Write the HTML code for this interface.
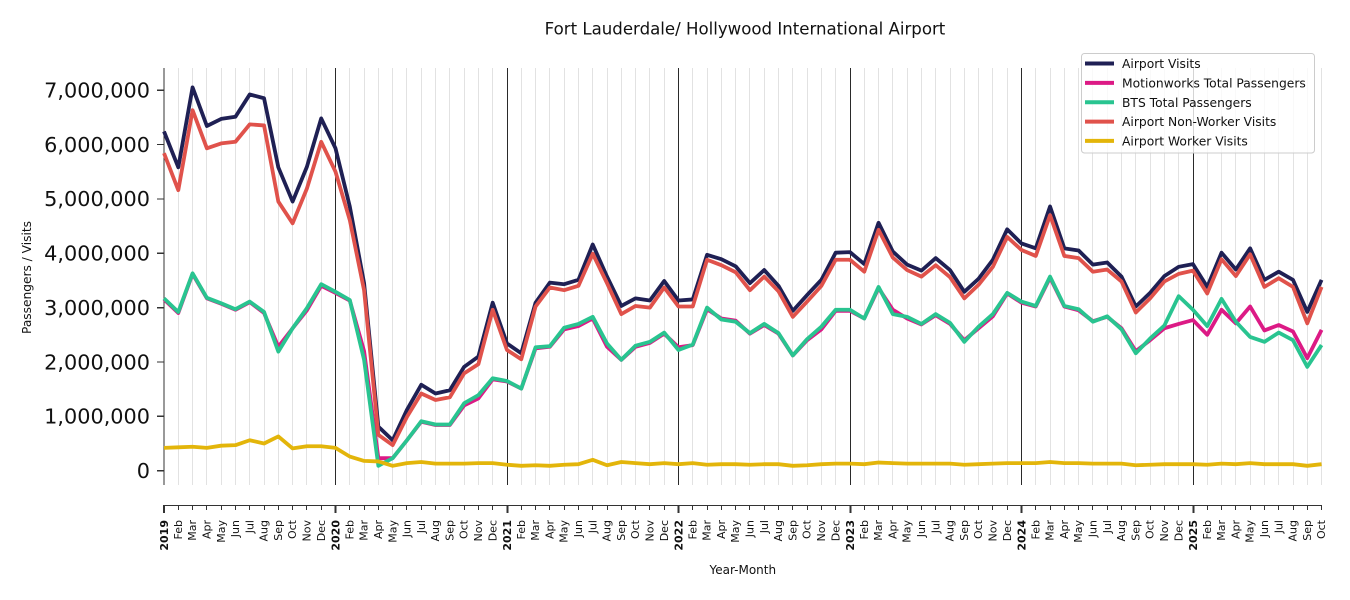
<!DOCTYPE html>
<html>
<head>
<meta charset="utf-8">
<style>
html,body{margin:0;padding:0;background:#fff;}
svg{display:block;font-family:"DejaVu Sans","Liberation Sans",sans-serif;}
</style>
</head>
<body>
<svg width="1350" height="600" viewBox="0 0 1350 600" xmlns="http://www.w3.org/2000/svg">
<rect width="1350" height="600" fill="#fff"/>
<!-- title -->
<text x="745" y="34.5" font-size="16.6" text-anchor="middle" fill="#111">Fort Lauderdale/ Hollywood International Airport</text>

<!-- minor grid -->
<path fill="none" stroke="#e2e2e2" stroke-width="1" shape-rendering="crispEdges" d="M178.5,68V485M192.5,68V485M206.5,68V485M221.5,68V485M235.5,68V485M249.5,68V485M264.5,68V485M278.5,68V485M292.5,68V485M306.5,68V485M321.5,68V485M349.5,68V485M364.5,68V485M378.5,68V485M392.5,68V485M406.5,68V485M421.5,68V485M435.5,68V485M449.5,68V485M464.5,68V485M478.5,68V485M492.5,68V485M521.5,68V485M535.5,68V485M549.5,68V485M564.5,68V485M578.5,68V485M592.5,68V485M607.5,68V485M621.5,68V485M635.5,68V485M649.5,68V485M664.5,68V485M692.5,68V485M707.5,68V485M721.5,68V485M735.5,68V485M749.5,68V485M764.5,68V485M778.5,68V485M792.5,68V485M807.5,68V485M821.5,68V485M835.5,68V485M864.5,68V485M878.5,68V485M892.5,68V485M907.5,68V485M921.5,68V485M935.5,68V485M950.5,68V485M964.5,68V485M978.5,68V485M992.5,68V485M1007.5,68V485M1035.5,68V485M1050.5,68V485M1064.5,68V485M1078.5,68V485M1092.5,68V485M1107.5,68V485M1121.5,68V485M1135.5,68V485M1150.5,68V485M1164.5,68V485M1178.5,68V485M1207.5,68V485M1221.5,68V485M1235.5,68V485M1250.5,68V485M1264.5,68V485M1278.5,68V485M1293.5,68V485M1307.5,68V485M1321.5,68V485"/>
<path fill="none" stroke="#2a2a2a" stroke-width="1" shape-rendering="crispEdges" d="M335.5,68V485M507.5,68V485M678.5,68V485M850.5,68V485M1021.5,68V485M1193.5,68V485"/>

<!-- spines and ticks -->
<g stroke="#333" stroke-width="1.3" fill="none" shape-rendering="crispEdges">
<path d="M164,68V485"/>
<path d="M157,470.7H164M157,416.3H164M157,362H164M157,307.6H164M157,253.2H164M157,198.9H164M157,144.5H164M157,90.1H164"/>
<path d="M164,505.5H1322"/>
</g>
<path fill="none" stroke="#333" stroke-width="1.2" shape-rendering="crispEdges" d="M178.5,505V510M192.5,505V510M206.5,505V510M221.5,505V510M235.5,505V510M249.5,505V510M264.5,505V510M278.5,505V510M292.5,505V510M306.5,505V510M321.5,505V510M349.5,505V510M364.5,505V510M378.5,505V510M392.5,505V510M406.5,505V510M421.5,505V510M435.5,505V510M449.5,505V510M464.5,505V510M478.5,505V510M492.5,505V510M521.5,505V510M535.5,505V510M549.5,505V510M564.5,505V510M578.5,505V510M592.5,505V510M607.5,505V510M621.5,505V510M635.5,505V510M649.5,505V510M664.5,505V510M692.5,505V510M707.5,505V510M721.5,505V510M735.5,505V510M749.5,505V510M764.5,505V510M778.5,505V510M792.5,505V510M807.5,505V510M821.5,505V510M835.5,505V510M864.5,505V510M878.5,505V510M892.5,505V510M907.5,505V510M921.5,505V510M935.5,505V510M950.5,505V510M964.5,505V510M978.5,505V510M992.5,505V510M1007.5,505V510M1035.5,505V510M1050.5,505V510M1064.5,505V510M1078.5,505V510M1092.5,505V510M1107.5,505V510M1121.5,505V510M1135.5,505V510M1150.5,505V510M1164.5,505V510M1178.5,505V510M1207.5,505V510M1221.5,505V510M1235.5,505V510M1250.5,505V510M1264.5,505V510M1278.5,505V510M1293.5,505V510M1307.5,505V510M1321.5,505V510"/>
<path fill="none" stroke="#333" stroke-width="1.6" shape-rendering="crispEdges" d="M164,505V513M335.5,505V513M507.5,505V513M678.5,505V513M850.5,505V513M1021.5,505V513M1193.5,505V513"/>

<!-- y tick labels -->
<g font-size="20.8" text-anchor="end" fill="#111">
<text x="150" y="478">0</text>
<text x="150" y="423.6">1,000,000</text>
<text x="150" y="369.3">2,000,000</text>
<text x="150" y="314.9">3,000,000</text>
<text x="150" y="260.5">4,000,000</text>
<text x="150" y="206.2">5,000,000</text>
<text x="150" y="151.8">6,000,000</text>
<text x="150" y="97.4">7,000,000</text>
</g>
<text transform="translate(26.5,277.5) rotate(-90)" dy="0.35em" font-size="12.2" text-anchor="middle" fill="#111">Passengers / Visits</text>

<!-- series -->
<g transform="translate(164,470.7) scale(14.291,-54.37)" fill="none" stroke-width="3.8" stroke-linejoin="round" stroke-linecap="butt">
<polyline vector-effect="non-scaling-stroke" stroke="#1f2054" points="0,6.24 1,5.58 2,7.05 3,6.34 4,6.47 5,6.51 6,6.92 7,6.85 8,5.58 9,4.95 10,5.59 11,6.48 12,5.93 13,4.86 14,3.45 15,0.81 16,0.56 17,1.12 18,1.58 19,1.42 20,1.48 21,1.91 22,2.10 23,3.09 24,2.34 25,2.16 26,3.09 27,3.46 28,3.43 29,3.51 30,4.16 31,3.57 32,3.03 33,3.17 34,3.13 35,3.49 36,3.13 37,3.15 38,3.97 39,3.89 40,3.76 41,3.45 42,3.69 43,3.40 44,2.94 45,3.23 46,3.51 47,4.01 48,4.02 49,3.80 50,4.56 51,4.03 52,3.79 53,3.68 54,3.91 55,3.69 56,3.29 57,3.53 58,3.88 59,4.44 60,4.18 61,4.09 62,4.86 63,4.09 64,4.05 65,3.79 66,3.83 67,3.57 68,3.02 69,3.27 70,3.58 71,3.75 72,3.80 73,3.38 74,4.01 75,3.70 76,4.09 77,3.51 78,3.66 79,3.51 80,2.92 81,3.51"/>
<polyline vector-effect="non-scaling-stroke" stroke="#dc1a85" points="0,3.15 1,2.90 2,3.62 3,3.17 4,3.07 5,2.96 6,3.10 7,2.90 8,2.28 9,2.62 10,2.95 11,3.40 12,3.27 13,3.13 14,2.20 15,0.23 16,0.23 17,0.56 18,0.90 19,0.84 20,0.84 21,1.20 22,1.33 23,1.68 24,1.64 25,1.51 26,2.25 27,2.28 28,2.60 29,2.66 30,2.80 31,2.28 32,2.04 33,2.28 34,2.35 35,2.52 36,2.27 37,2.31 38,2.97 39,2.80 40,2.76 41,2.52 42,2.68 43,2.52 44,2.12 45,2.40 46,2.60 47,2.94 48,2.94 49,2.80 50,3.36 51,2.96 52,2.80 53,2.69 54,2.86 55,2.70 56,2.40 57,2.62 58,2.84 59,3.26 60,3.09 61,3.02 62,3.55 63,3.02 64,2.95 65,2.75 66,2.83 67,2.62 68,2.20 69,2.40 70,2.62 71,2.70 72,2.77 73,2.50 74,2.96 75,2.71 76,3.02 77,2.58 78,2.68 79,2.56 80,2.07 81,2.59"/>
<polyline vector-effect="non-scaling-stroke" stroke="#29c490" points="0,3.17 1,2.92 2,3.63 3,3.18 4,3.08 5,2.97 6,3.11 7,2.92 8,2.19 9,2.62 10,2.99 11,3.43 12,3.29 13,3.14 14,2.04 15,0.09 16,0.23 17,0.56 18,0.91 19,0.85 20,0.85 21,1.24 22,1.39 23,1.70 24,1.65 25,1.51 26,2.27 27,2.29 28,2.63 29,2.70 30,2.83 31,2.34 32,2.04 33,2.30 34,2.37 35,2.54 36,2.22 37,2.32 38,3.00 39,2.78 40,2.74 41,2.53 42,2.70 43,2.53 44,2.12 45,2.42 46,2.65 47,2.96 48,2.96 49,2.80 50,3.38 51,2.88 52,2.83 53,2.70 54,2.88 55,2.72 56,2.37 57,2.65 58,2.88 59,3.27 60,3.11 61,3.03 62,3.57 63,3.03 64,2.97 65,2.74 66,2.84 67,2.60 68,2.16 69,2.43 70,2.67 71,3.21 72,2.96 73,2.66 74,3.16 75,2.74 76,2.46 77,2.37 78,2.54 79,2.40 80,1.91 81,2.31"/>
<polyline vector-effect="non-scaling-stroke" stroke="#e0524b" points="0,5.84 1,5.16 2,6.63 3,5.93 4,6.02 5,6.05 6,6.37 7,6.35 8,4.95 9,4.55 10,5.19 11,6.05 12,5.50 13,4.61 14,3.32 15,0.66 16,0.47 17,0.99 18,1.42 19,1.30 20,1.35 21,1.79 22,1.96 23,2.96 24,2.22 25,2.05 26,3.02 27,3.37 28,3.32 29,3.40 30,3.99 31,3.45 32,2.88 33,3.03 34,3.00 35,3.37 36,3.02 37,3.02 38,3.88 39,3.78 40,3.65 41,3.32 42,3.57 43,3.30 44,2.83 45,3.11 46,3.40 47,3.88 48,3.88 49,3.66 50,4.43 51,3.92 52,3.69 53,3.57 54,3.78 55,3.56 56,3.17 57,3.42 58,3.75 59,4.30 60,4.06 61,3.95 62,4.70 63,3.95 64,3.91 65,3.66 66,3.70 67,3.48 68,2.91 69,3.17 70,3.48 71,3.62 72,3.68 73,3.26 74,3.89 75,3.58 76,3.98 77,3.38 78,3.54 79,3.38 80,2.71 81,3.38"/>
<polyline vector-effect="non-scaling-stroke" stroke="#e3b50a" points="0,0.42 1,0.43 2,0.44 3,0.42 4,0.46 5,0.47 6,0.56 7,0.50 8,0.63 9,0.41 10,0.45 11,0.45 12,0.42 13,0.26 14,0.18 15,0.17 16,0.09 17,0.14 18,0.16 19,0.13 20,0.13 21,0.13 22,0.14 23,0.14 24,0.11 25,0.09 26,0.10 27,0.09 28,0.11 29,0.12 30,0.20 31,0.10 32,0.16 33,0.14 34,0.12 35,0.14 36,0.12 37,0.14 38,0.11 39,0.12 40,0.12 41,0.11 42,0.12 43,0.12 44,0.09 45,0.10 46,0.12 47,0.13 48,0.13 49,0.12 50,0.15 51,0.14 52,0.13 53,0.13 54,0.13 55,0.13 56,0.11 57,0.12 58,0.13 59,0.14 60,0.14 61,0.14 62,0.16 63,0.14 64,0.14 65,0.13 66,0.13 67,0.13 68,0.10 69,0.11 70,0.12 71,0.12 72,0.12 73,0.11 74,0.13 75,0.12 76,0.14 77,0.12 78,0.12 79,0.12 80,0.09 81,0.12"/>
</g>

<!-- legend -->
<rect x="1081.5" y="53.5" width="233" height="99.5" rx="3" ry="3" fill="#fff" fill-opacity="0.8" stroke="#cccccc" stroke-width="1"/>
<g stroke-width="4" fill="none">
<path d="M1085,63.5H1114" stroke="#1f2054"/>
<path d="M1085,82.9H1114" stroke="#dc1a85"/>
<path d="M1085,102.2H1114" stroke="#29c490"/>
<path d="M1085,121.6H1114" stroke="#e0524b"/>
<path d="M1085,140.9H1114" stroke="#e3b50a"/>
</g>
<g font-size="12.3" fill="#111">
<text x="1122" y="68.1">Airport Visits</text>
<text x="1122" y="87.5">Motionworks Total Passengers</text>
<text x="1122" y="106.8">BTS Total Passengers</text>
<text x="1122" y="126.2">Airport Non-Worker Visits</text>
<text x="1122" y="145.5">Airport Worker Visits</text>
</g>

<!-- x tick labels -->
<g font-size="11" text-anchor="end" fill="#111">
<text transform="translate(164,520) rotate(-90)" dy="0.35em" font-weight="bold">2019</text>
<text transform="translate(178.3,520) rotate(-90)" dy="0.33em">Feb</text>
<text transform="translate(192.6,520) rotate(-90)" dy="0.33em">Mar</text>
<text transform="translate(206.9,520) rotate(-90)" dy="0.33em">Apr</text>
<text transform="translate(221.2,520) rotate(-90)" dy="0.33em">May</text>
<text transform="translate(235.5,520) rotate(-90)" dy="0.33em">Jun</text>
<text transform="translate(249.7,520) rotate(-90)" dy="0.33em">Jul</text>
<text transform="translate(264,520) rotate(-90)" dy="0.33em">Aug</text>
<text transform="translate(278.3,520) rotate(-90)" dy="0.33em">Sep</text>
<text transform="translate(292.6,520) rotate(-90)" dy="0.33em">Oct</text>
<text transform="translate(306.9,520) rotate(-90)" dy="0.33em">Nov</text>
<text transform="translate(321.2,520) rotate(-90)" dy="0.33em">Dec</text>
<text transform="translate(335.5,520) rotate(-90)" dy="0.35em" font-weight="bold">2020</text>
<text transform="translate(349.8,520) rotate(-90)" dy="0.33em">Feb</text>
<text transform="translate(364.1,520) rotate(-90)" dy="0.33em">Mar</text>
<text transform="translate(378.4,520) rotate(-90)" dy="0.33em">Apr</text>
<text transform="translate(392.7,520) rotate(-90)" dy="0.33em">May</text>
<text transform="translate(406.9,520) rotate(-90)" dy="0.33em">Jun</text>
<text transform="translate(421.2,520) rotate(-90)" dy="0.33em">Jul</text>
<text transform="translate(435.5,520) rotate(-90)" dy="0.33em">Aug</text>
<text transform="translate(449.8,520) rotate(-90)" dy="0.33em">Sep</text>
<text transform="translate(464.1,520) rotate(-90)" dy="0.33em">Oct</text>
<text transform="translate(478.4,520) rotate(-90)" dy="0.33em">Nov</text>
<text transform="translate(492.7,520) rotate(-90)" dy="0.33em">Dec</text>
<text transform="translate(507,520) rotate(-90)" dy="0.35em" font-weight="bold">2021</text>
<text transform="translate(521.3,520) rotate(-90)" dy="0.33em">Feb</text>
<text transform="translate(535.6,520) rotate(-90)" dy="0.33em">Mar</text>
<text transform="translate(549.9,520) rotate(-90)" dy="0.33em">Apr</text>
<text transform="translate(564.1,520) rotate(-90)" dy="0.33em">May</text>
<text transform="translate(578.4,520) rotate(-90)" dy="0.33em">Jun</text>
<text transform="translate(592.7,520) rotate(-90)" dy="0.33em">Jul</text>
<text transform="translate(607,520) rotate(-90)" dy="0.33em">Aug</text>
<text transform="translate(621.3,520) rotate(-90)" dy="0.33em">Sep</text>
<text transform="translate(635.6,520) rotate(-90)" dy="0.33em">Oct</text>
<text transform="translate(649.9,520) rotate(-90)" dy="0.33em">Nov</text>
<text transform="translate(664.2,520) rotate(-90)" dy="0.33em">Dec</text>
<text transform="translate(678.5,520) rotate(-90)" dy="0.35em" font-weight="bold">2022</text>
<text transform="translate(692.8,520) rotate(-90)" dy="0.33em">Feb</text>
<text transform="translate(707.1,520) rotate(-90)" dy="0.33em">Mar</text>
<text transform="translate(721.3,520) rotate(-90)" dy="0.33em">Apr</text>
<text transform="translate(735.6,520) rotate(-90)" dy="0.33em">May</text>
<text transform="translate(749.9,520) rotate(-90)" dy="0.33em">Jun</text>
<text transform="translate(764.2,520) rotate(-90)" dy="0.33em">Jul</text>
<text transform="translate(778.5,520) rotate(-90)" dy="0.33em">Aug</text>
<text transform="translate(792.8,520) rotate(-90)" dy="0.33em">Sep</text>
<text transform="translate(807.1,520) rotate(-90)" dy="0.33em">Oct</text>
<text transform="translate(821.4,520) rotate(-90)" dy="0.33em">Nov</text>
<text transform="translate(835.7,520) rotate(-90)" dy="0.33em">Dec</text>
<text transform="translate(850,520) rotate(-90)" dy="0.35em" font-weight="bold">2023</text>
<text transform="translate(864.3,520) rotate(-90)" dy="0.33em">Feb</text>
<text transform="translate(878.6,520) rotate(-90)" dy="0.33em">Mar</text>
<text transform="translate(892.8,520) rotate(-90)" dy="0.33em">Apr</text>
<text transform="translate(907.1,520) rotate(-90)" dy="0.33em">May</text>
<text transform="translate(921.4,520) rotate(-90)" dy="0.33em">Jun</text>
<text transform="translate(935.7,520) rotate(-90)" dy="0.33em">Jul</text>
<text transform="translate(950,520) rotate(-90)" dy="0.33em">Aug</text>
<text transform="translate(964.3,520) rotate(-90)" dy="0.33em">Sep</text>
<text transform="translate(978.6,520) rotate(-90)" dy="0.33em">Oct</text>
<text transform="translate(992.9,520) rotate(-90)" dy="0.33em">Nov</text>
<text transform="translate(1007.2,520) rotate(-90)" dy="0.33em">Dec</text>
<text transform="translate(1021.5,520) rotate(-90)" dy="0.35em" font-weight="bold">2024</text>
<text transform="translate(1035.8,520) rotate(-90)" dy="0.33em">Feb</text>
<text transform="translate(1050,520) rotate(-90)" dy="0.33em">Mar</text>
<text transform="translate(1064.3,520) rotate(-90)" dy="0.33em">Apr</text>
<text transform="translate(1078.6,520) rotate(-90)" dy="0.33em">May</text>
<text transform="translate(1092.9,520) rotate(-90)" dy="0.33em">Jun</text>
<text transform="translate(1107.2,520) rotate(-90)" dy="0.33em">Jul</text>
<text transform="translate(1121.5,520) rotate(-90)" dy="0.33em">Aug</text>
<text transform="translate(1135.8,520) rotate(-90)" dy="0.33em">Sep</text>
<text transform="translate(1150.1,520) rotate(-90)" dy="0.33em">Oct</text>
<text transform="translate(1164.4,520) rotate(-90)" dy="0.33em">Nov</text>
<text transform="translate(1178.7,520) rotate(-90)" dy="0.33em">Dec</text>
<text transform="translate(1193,520) rotate(-90)" dy="0.35em" font-weight="bold">2025</text>
<text transform="translate(1207.2,520) rotate(-90)" dy="0.33em">Feb</text>
<text transform="translate(1221.5,520) rotate(-90)" dy="0.33em">Mar</text>
<text transform="translate(1235.8,520) rotate(-90)" dy="0.33em">Apr</text>
<text transform="translate(1250.1,520) rotate(-90)" dy="0.33em">May</text>
<text transform="translate(1264.4,520) rotate(-90)" dy="0.33em">Jun</text>
<text transform="translate(1278.7,520) rotate(-90)" dy="0.33em">Jul</text>
<text transform="translate(1293,520) rotate(-90)" dy="0.33em">Aug</text>
<text transform="translate(1307.3,520) rotate(-90)" dy="0.33em">Sep</text>
<text transform="translate(1321.6,520) rotate(-90)" dy="0.33em">Oct</text>
</g>
<text x="742.8" y="574" font-size="12" text-anchor="middle" fill="#111">Year-Month</text>
</svg>
</body>
</html>
